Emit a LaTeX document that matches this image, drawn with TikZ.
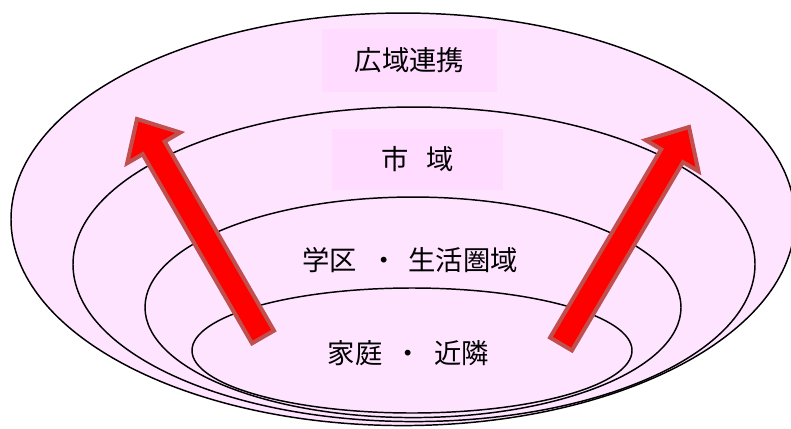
\documentclass[tikz,border=0pt]{standalone}
\usepackage{fontspec}
\setmainfont{Noto Sans CJK JP}
\usetikzlibrary{shapes.geometric,calc}

\definecolor{bgpink}{RGB}{255,228,255}
\definecolor{boxpink}{RGB}{255,219,255}
\definecolor{arrowline}{RGB}{192,80,77}

\tikzset{
  ring/.style={ellipse, draw=black, line width=1.1pt, fill=bgpink, inner sep=0pt},
  ringlabel/.style={font=\fontsize{20.5}{24}\selectfont, inner sep=0pt},
  labelbox/.style={ringlabel, fill=boxpink},
  redarrow/.style={fill=red, draw=arrowline, line width=3pt, line join=miter}
}

% block arrow from tail #1 to tip #2
\newcommand{\blockarrow}[2]{%
  \coordinate (#1base) at ($(#2)!25pt!(#1)$);
  \draw[redarrow] ($(#1)!9.5pt!90:(#2)$) -- ($(#1base)!9.5pt!90:(#2)$)
    -- ($(#1base)!23pt!90:(#2)$) -- (#2) -- ($(#1base)!23pt!-90:(#2)$)
    -- ($(#1base)!9.5pt!-90:(#2)$) -- ($(#1)!9.5pt!-90:(#2)$) -- cycle;
}

\begin{document}
\begin{tikzpicture}[x=0.75pt,y=-0.75pt]
	\useasboundingbox (0,0) rectangle (791,428);
	
	% rings, outside to inside
	\node[ring, minimum width=588pt, minimum height=309.4pt] (wide) at (403,219.3) {};
	\node[ring, minimum width=511.5pt, minimum height=235.9pt] (city) at (414,264.3) {};
	\node[ring, minimum width=402pt, minimum height=165.4pt] (school) at (413,307.3) {};
	\node[ring, minimum width=330pt, minimum height=93.75pt] (home) at (412,350.5) {};
	
	% labels
	\node[labelbox, minimum width=131.25pt, minimum height=47.25pt] (widelabel) at (409.5,60.5) {広域連携};
	\node[labelbox, minimum width=128.25pt, minimum height=45.75pt] (citylabel) at (417.5,159.5) {市\hspace{0.65em}域};
	\node[ringlabel] (schoollabel) at (410,260) {学区\hspace{0.5em}・\hspace{0.4em}生活圏域};
	\node[ringlabel] (homelabel) at (408.5,353) {家庭\hspace{0.45em}・\hspace{0.45em}近隣};
	
	% arrows
	\coordinate (tailL) at (263,337);
	\coordinate (tipL) at (137,119);
	\coordinate (tailR) at (561,344);
	\coordinate (tipR) at (689,127);
	\blockarrow{tailL}{tipL}
	\blockarrow{tailR}{tipR}
	
\end{tikzpicture}
\end{document}
